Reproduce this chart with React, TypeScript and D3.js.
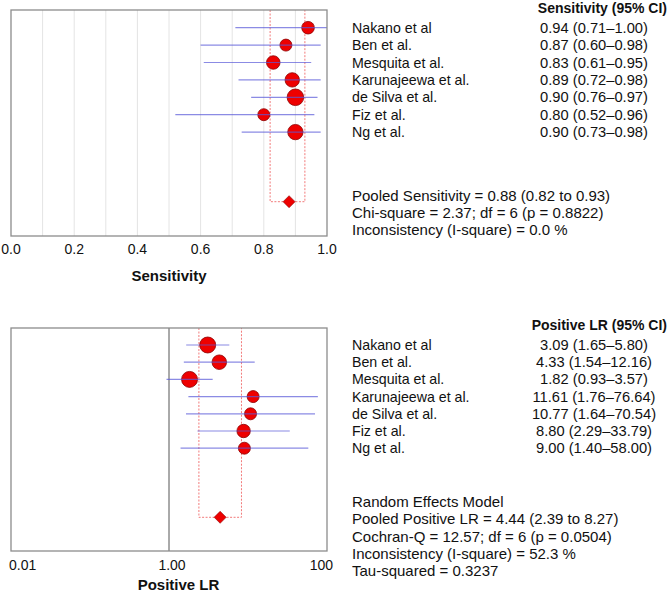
import React from "react";
import * as d3 from "d3";

const studies = ["Nakano et al", "Ben et al.", "Mesquita et al.", "Karunajeewa et al.", "de Silva et al.", "Fiz et al.", "Ng et al."];
const sensEst = [0.94, 0.87, 0.83, 0.89, 0.90, 0.80, 0.90];
const sensLo = [0.71, 0.60, 0.61, 0.72, 0.76, 0.52, 0.73];
const sensHi = [1.00, 0.98, 0.95, 0.98, 0.97, 0.96, 0.98];
const sensWeight = [40, 36, 46, 52, 69, 36, 59];
const sensPooled = [0.88, 0.82, 0.93];
const sensTicks = [0, 0.2, 0.4, 0.6, 0.8, 1.0];
const sensGrid = [0.1, 0.2, 0.3, 0.4, 0.5, 0.6, 0.7, 0.8, 0.9];
const sensLabels = ["0.94 (0.71–1.00)", "0.87 (0.60–0.98)", "0.83 (0.61–0.95)", "0.89 (0.72–0.98)", "0.90 (0.76–0.97)", "0.80 (0.52–0.96)", "0.90 (0.73–0.98)"];
const sensStats = ["Pooled Sensitivity = 0.88 (0.82 to 0.93)", "Chi-square = 2.37; df = 6 (p = 0.8822)", "Inconsistency (I-square) = 0.0 %"];

const lrEst = [3.09, 4.33, 1.82, 11.61, 10.77, 8.80, 9.00];
const lrLo = [1.65, 1.54, 0.93, 1.76, 1.64, 2.29, 1.40];
const lrHi = [5.80, 12.16, 3.57, 76.64, 70.54, 33.79, 58.00];
const lrWeight = [64, 53, 64, 36, 36, 45, 36];
const lrPooled = [4.44, 2.39, 8.27];
const lrTicks = [0.01, 1, 100];
const lrTickLabels = ["0.01", "1.00", "100"];
const lrLabels = ["3.09 (1.65–5.80)", "4.33 (1.54–12.16)", "1.82 (0.93–3.57)", "11.61 (1.76–76.64)", "10.77 (1.64–70.54)", "8.80 (2.29–33.79)", "9.00 (1.40–58.00)"];
const lrStats = ["Random Effects Model", "Pooled Positive LR = 4.44 (2.39 to 8.27)", "Cochran-Q = 12.57; df = 6 (p = 0.0504)", "Inconsistency (I-square) = 52.3 %", "Tau-squared = 0.3237"];

const FONT = "'Liberation Sans', Arial, sans-serif";
const FS_NAME = 14.2;
const FS_VAL = 14.7;
const FS_STAT = 15;
const rScale = d3.scaleSqrt().domain([0, 69]).range([0, 8.3]);

function Panel({ top, x, est, lo, hi, weight, pooled, rowStart, rowStep, diamondY, children }: any) {
  const rowY = d3.scaleLinear().domain([0, 1]).range([rowStart, rowStart + rowStep]);
  const [pe, pl, ph] = pooled;
  const dx = x(pe);
  return (
    <g>
      {children}
      <path
        d={`M${x(pl)},${top}V${diamondY}H${x(ph)}V${top}`}
        fill="none"
        stroke="#f27a7a"
        strokeWidth={1}
        strokeDasharray="2,1.5"
      />
      {est.map((v: number, i: number) => (
        <circle key={"c" + i} cx={x(v)} cy={rowY(i)} r={rScale(weight[i])} fill="#ee0000" stroke="#8b0000" strokeWidth={0.8} />
      ))}
      {est.map((v: number, i: number) => (
        <line key={"l" + i} x1={x(lo[i])} x2={x(hi[i])} y1={rowY(i)} y2={rowY(i)} stroke="#5a5ad8" strokeOpacity={0.7} strokeWidth={1.2} />
      ))}
      <path d={`M${dx - 6},${diamondY}L${dx},${diamondY - 6}L${dx + 6},${diamondY}L${dx},${diamondY + 6}Z`} fill="#ee0000" stroke="#8b0000" strokeWidth={0.6} />
    </g>
  );
}

export default function App() {
  const L = 11, R = 327;
  const xs = d3.scaleLinear().domain([0, 1]).range([L, R]);
  const xl = d3.scaleLog().domain([0.01, 100]).range([L, R]);
  const t1 = 10, b1 = 236;
  const t2 = 328, b2 = 551;
  const textX = 352, valX = 594;

  return (
    <div style={{ position: "absolute", left: 0, top: 0 }}>
      <svg width={668} height={595} style={{ display: "block", fontFamily: FONT }}>
        <rect width={668} height={595} fill="#fff" />
        {/* Top panel */}
        <Panel top={t1} x={xs} est={sensEst} lo={sensLo} hi={sensHi} weight={sensWeight} pooled={sensPooled} rowStart={27.7} rowStep={17.4} diamondY={201.7}>
          {sensGrid.map((g) => (
            <line key={g} x1={xs(g)} x2={xs(g)} y1={t1} y2={b1} stroke="#e4e4e4" strokeWidth={1} />
          ))}
        </Panel>
        <rect x={L} y={t1} width={R - L} height={b1 - t1} fill="none" stroke="#8c8c8c" strokeWidth={1.3} />
        {sensTicks.map((t) => (
          <text key={t} x={xs(t)} y={249} textAnchor="middle" dominantBaseline="central" fontSize={14} fill="#111">
            {t.toFixed(1)}
          </text>
        ))}
        <text x={169} y={275} textAnchor="middle" dominantBaseline="central" fontSize={15} fontWeight="bold" fill="#111">
          Sensitivity
        </text>
        <text x={667} y={8} textAnchor="end" dominantBaseline="central" fontSize={14} fontWeight="bold" fill="#111">
          Sensitivity (95% CI)
        </text>
        {studies.map((s, i) => (
          <g key={s}>
            <text x={textX} y={27.7 + i * 17.4} dominantBaseline="central" fontSize={FS_NAME} fill="#111">{s}</text>
            <text x={valX} y={27.7 + i * 17.4} textAnchor="middle" dominantBaseline="central" fontSize={FS_VAL} fill="#111">{sensLabels[i]}</text>
          </g>
        ))}
        {sensStats.map((s, i) => (
          <text key={s} x={textX} y={195.7 + i * 16.7} dominantBaseline="central" fontSize={FS_STAT} fill="#111">{s}</text>
        ))}

        {/* Bottom panel */}
        <Panel top={t2} x={xl} est={lrEst} lo={lrLo} hi={lrHi} weight={lrWeight} pooled={lrPooled} rowStart={345} rowStep={17.2} diamondY={517.3}>
          <line x1={xl(1)} x2={xl(1)} y1={t2} y2={b2} stroke="#555" strokeWidth={1} />
        </Panel>
        <rect x={L} y={t2} width={R - L} height={b2 - t2} fill="none" stroke="#8c8c8c" strokeWidth={1.3} />
        {lrTicks.map((t, i) => (
          <text
            key={t}
            x={xl(t) + (i === 0 ? -2 : i === 1 ? 3 : 6)}
            y={565}
            textAnchor={i === 0 ? "start" : i === 1 ? "middle" : "end"}
            dominantBaseline="central"
            fontSize={14}
            fill="#111"
          >
            {lrTickLabels[i]}
          </text>
        ))}
        <text x={178.5} y={584} textAnchor="middle" dominantBaseline="central" fontSize={15} fontWeight="bold" fill="#111">
          Positive LR
        </text>
        <text x={667} y={325} textAnchor="end" dominantBaseline="central" fontSize={14} fontWeight="bold" fill="#111">
          Positive LR (95% CI)
        </text>
        {studies.map((s, i) => (
          <g key={s}>
            <text x={textX} y={345 + i * 17.2} dominantBaseline="central" fontSize={FS_NAME} fill="#111">{s}</text>
            <text x={valX} y={345 + i * 17.2} textAnchor="middle" dominantBaseline="central" fontSize={FS_VAL} fill="#111">{lrLabels[i]}</text>
          </g>
        ))}
        {lrStats.map((s, i) => (
          <text key={s} x={textX} y={501.7 + i * 17.2} dominantBaseline="central" fontSize={FS_STAT} fill="#111">{s}</text>
        ))}
      </svg>
    </div>
  );
}
